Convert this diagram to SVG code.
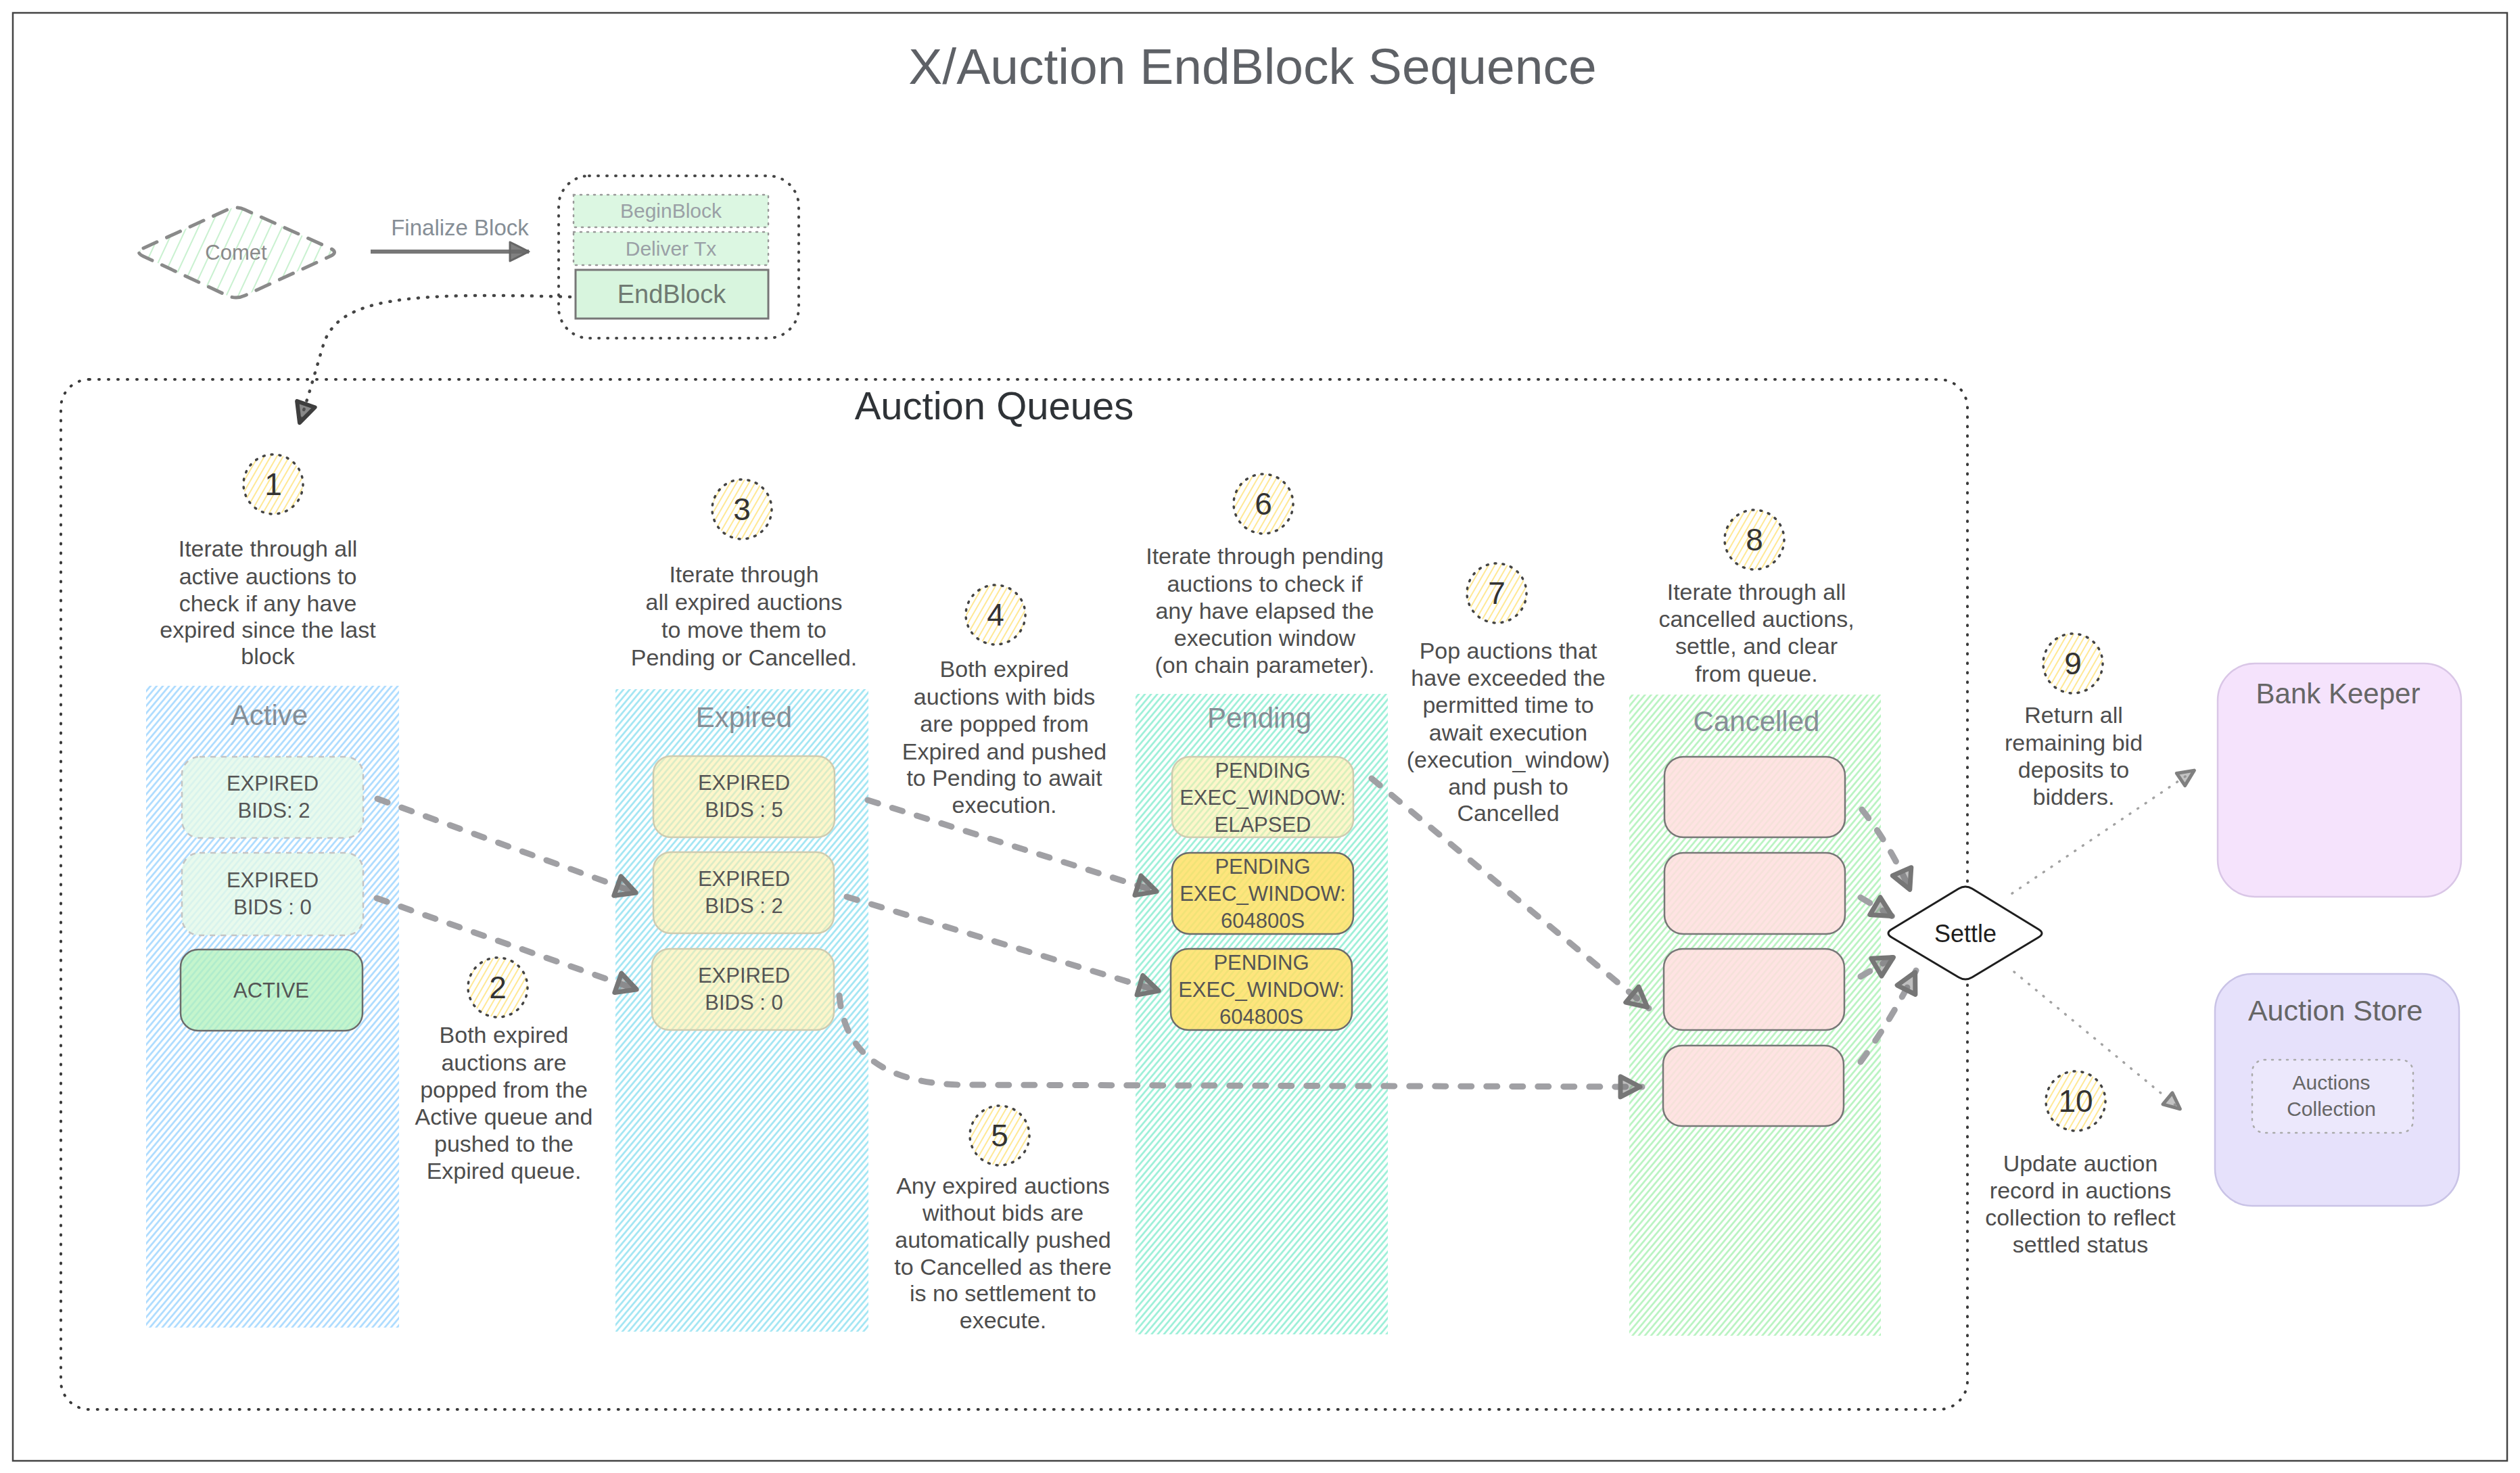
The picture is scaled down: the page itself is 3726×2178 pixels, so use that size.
<svg xmlns="http://www.w3.org/2000/svg" width="3726" height="2178" viewBox="0 0 3726 2178">
<defs>
<style>
text{font-family:"Liberation Sans",Arial,sans-serif;}
.desc{font-size:34px;fill:#4d4d4d;text-anchor:middle;}
.num{font-size:46px;fill:#333;text-anchor:middle;}
.lbl{font-size:42px;fill:#868e96;text-anchor:middle;}
.bx{font-size:31px;fill:#555;text-anchor:middle;}
.step{stroke:#444;stroke-width:3.5;stroke-dasharray:2 10;stroke-linecap:round;fill:url(#hy);}
.conn{fill:none;stroke:#a0a0a4;stroke-width:9;stroke-dasharray:16 22;stroke-linecap:round;}
.thin{fill:none;stroke:#a3a3a3;stroke-width:3.5;stroke-dasharray:1 13;stroke-linecap:round;}
.solidbox{stroke:#6b6b6b;stroke-width:2.5;}
.fadebox{stroke:#cfcbb0;stroke-width:2.5;}
</style>
<pattern id="hb" width="7" height="7" patternUnits="userSpaceOnUse" patternTransform="rotate(40)"><line x1="3.5" y1="0" x2="3.5" y2="7" stroke="#a5d8ff" stroke-width="2.5"/></pattern>
<pattern id="hc" width="7" height="7" patternUnits="userSpaceOnUse" patternTransform="rotate(40)"><line x1="3.5" y1="0" x2="3.5" y2="7" stroke="#99e3f2" stroke-width="2.5"/></pattern>
<pattern id="ht" width="7" height="7" patternUnits="userSpaceOnUse" patternTransform="rotate(40)"><line x1="3.5" y1="0" x2="3.5" y2="7" stroke="#93eed4" stroke-width="2.5"/></pattern>
<pattern id="hg" width="7" height="7" patternUnits="userSpaceOnUse" patternTransform="rotate(40)"><line x1="3.5" y1="0" x2="3.5" y2="7" stroke="#b2f2bb" stroke-width="2.5"/></pattern>
<pattern id="hy" width="8" height="8" patternUnits="userSpaceOnUse" patternTransform="rotate(30)"><line x1="4" y1="0" x2="4" y2="8" stroke="#ffe27a" stroke-width="1.6"/></pattern>
<pattern id="hcm" width="16" height="16" patternUnits="userSpaceOnUse" patternTransform="rotate(25)"><line x1="8" y1="0" x2="8" y2="16" stroke="#c3f0cb" stroke-width="1.8"/></pattern>
<marker id="ah" markerUnits="userSpaceOnUse" viewBox="-44 -24 50 48" markerWidth="50" markerHeight="48" refX="0" refY="0" orient="auto" overflow="visible">
<path d="M-3,0 L-32,-15 L-32,15 Z" fill="#707070" fill-opacity="0.45" stroke="#767676" stroke-width="7" stroke-linejoin="round"/>
</marker>
<marker id="ahs" markerUnits="userSpaceOnUse" viewBox="-34 -18 40 36" markerWidth="40" markerHeight="36" refX="0" refY="0" orient="auto" overflow="visible">
<path d="M-2,0 L-26,-11 L-26,11 Z" fill="#888" fill-opacity="0.5" stroke="#808080" stroke-width="5" stroke-linejoin="round"/>
</marker>
<marker id="ahd" markerUnits="userSpaceOnUse" viewBox="-40 -22 46 44" markerWidth="46" markerHeight="44" refX="0" refY="0" orient="auto" overflow="visible">
<path d="M-3,0 L-32,-14 L-32,14 Z" fill="#555" fill-opacity="0.7" stroke="#3e3e3e" stroke-width="6" stroke-linejoin="round"/>
</marker>
<marker id="ahf" markerUnits="userSpaceOnUse" viewBox="-34 -18 38 36" markerWidth="38" markerHeight="36" refX="0" refY="0" orient="auto" overflow="visible">
<path d="M0,0 L-28,-14 L-28,14 Z" fill="#6a6a6a" fill-opacity="0.85" stroke="#666" stroke-width="3" stroke-linejoin="round"/>
</marker>
</defs>

<rect x="0" y="0" width="3726" height="2178" fill="#ffffff"/>
<rect x="19" y="19" width="3688" height="2141" fill="none" stroke="#444" stroke-width="2.5"/>

<text x="1852" y="124" text-anchor="middle" font-size="75" fill="#5e6166">X/Auction EndBlock Sequence</text>

<g id="comet">
<path d="M212,367 L336,310 Q349,304 362,310 L488,367 Q501,373 488,379 L362,437 Q349,443 336,437 L212,379 Q199,373 212,367 Z" fill="url(#hcm)" stroke="#8a8a8a" stroke-width="5" stroke-dasharray="22 16" stroke-linecap="round"/>
<text x="349" y="384" text-anchor="middle" font-size="31" fill="#8a8a8a">Comet</text>
</g>

<g id="block-lifecycle">
<rect x="826" y="260" width="355" height="240" rx="45" fill="none" stroke="#444" stroke-width="4" stroke-dasharray="1 12" stroke-linecap="round"/>
<g id="beginblock">
<rect x="848" y="288" width="288" height="48" fill="#dcf7e2" stroke="#999" stroke-width="2.5" stroke-dasharray="2 8" stroke-linecap="round"/>
<text x="992" y="322" text-anchor="middle" font-size="30" fill="#9aa0a6">BeginBlock</text>
</g>
<g id="delivertx">
<rect x="848" y="343" width="288" height="49" fill="#dcf7e2" stroke="#999" stroke-width="2.5" stroke-dasharray="2 8" stroke-linecap="round"/>
<text x="992" y="378" text-anchor="middle" font-size="30" fill="#9aa0a6">Deliver Tx</text>
</g>
<g id="endblock">
<rect x="851" y="399" width="285" height="72" fill="#d8f5de" stroke="#777" stroke-width="3"/>
<text x="993" y="448" text-anchor="middle" font-size="38" fill="#6f7a72">EndBlock</text>
</g>
</g>

<g id="auction-queues">
<rect x="90" y="561" width="2819" height="1523" rx="42" fill="none" stroke="#3a3a3a" stroke-width="4" stroke-dasharray="1 13" stroke-linecap="round"/>
<text x="1470" y="620" text-anchor="middle" font-size="58" fill="#2f3337">Auction Queues</text>
</g>

<g id="col-active">
<rect x="216" y="1014" width="374" height="949" fill="url(#hb)"/>
<text class="lbl" x="398" y="1072">Active</text>
</g>
<g id="col-expired">
<rect x="910" y="1019" width="374" height="950" fill="url(#hc)"/>
<text class="lbl" x="1100" y="1075">Expired</text>
</g>
<g id="col-pending">
<rect x="1679" y="1026" width="373" height="947" fill="url(#ht)"/>
<text class="lbl" x="1862" y="1076">Pending</text>
</g>
<g id="col-cancelled">
<rect x="2409" y="1027" width="372" height="948" fill="url(#hg)"/>
<text class="lbl" x="2597" y="1081">Cancelled</text>
</g>

<g id="active-expired-2">
<rect x="269" y="1119" width="268" height="120" rx="26" fill="#e3f9e8" fill-opacity="0.8" stroke="#c4c4c4" stroke-width="2.5" stroke-dasharray="8 8"/>
<text class="bx" x="403" y="1169">EXPIRED</text>
<text class="bx" x="405" y="1209">BIDS: 2</text>
</g>
<g id="active-expired-0">
<rect x="269" y="1261" width="268" height="122" rx="26" fill="#e3f9e8" fill-opacity="0.8" stroke="#c4c4c4" stroke-width="2.5" stroke-dasharray="8 8"/>
<text class="bx" x="403" y="1312">EXPIRED</text>
<text class="bx" x="403" y="1352">BIDS : 0</text>
</g>
<g id="active-active">
<rect x="267" y="1404" width="269" height="120" rx="26" fill="#b2f2bb" fill-opacity="0.75" class="solidbox"/>
<text class="bx" x="401" y="1475">ACTIVE</text>
</g>

<g id="expired-5">
<rect x="966" y="1118" width="268" height="120" rx="26" fill="#fff0a8" fill-opacity="0.6" class="fadebox"/>
<text class="bx" x="1100" y="1168">EXPIRED</text>
<text class="bx" x="1100" y="1208">BIDS : 5</text>
</g>
<g id="expired-2">
<rect x="966" y="1260" width="267" height="120" rx="26" fill="#fff0a8" fill-opacity="0.6" class="fadebox"/>
<text class="bx" x="1100" y="1310">EXPIRED</text>
<text class="bx" x="1100" y="1350">BIDS : 2</text>
</g>
<g id="expired-0">
<rect x="964" y="1403" width="269" height="120" rx="26" fill="#fff0a8" fill-opacity="0.6" class="fadebox"/>
<text class="bx" x="1100" y="1453">EXPIRED</text>
<text class="bx" x="1100" y="1493">BIDS : 0</text>
</g>

<g id="pending-elapsed">
<rect x="1733" y="1119" width="268" height="119" rx="26" fill="#fff0a8" fill-opacity="0.6" class="fadebox"/>
<text class="bx" x="1867" y="1150">PENDING</text>
<text class="bx" x="1867" y="1190">EXEC_WINDOW:</text>
<text class="bx" x="1867" y="1230">ELAPSED</text>
</g>
<g id="pending-1">
<rect x="1733" y="1261" width="268" height="120" rx="26" fill="#ffe066" fill-opacity="0.85" class="solidbox"/>
<text class="bx" x="1867" y="1292">PENDING</text>
<text class="bx" x="1867" y="1332">EXEC_WINDOW:</text>
<text class="bx" x="1867" y="1372">604800S</text>
</g>
<g id="pending-2">
<rect x="1731" y="1403" width="268" height="120" rx="26" fill="#ffe066" fill-opacity="0.85" class="solidbox"/>
<text class="bx" x="1865" y="1434">PENDING</text>
<text class="bx" x="1865" y="1474">EXEC_WINDOW:</text>
<text class="bx" x="1865" y="1514">604800S</text>
</g>

<g id="cancelled-1"><rect x="2461" y="1119" width="267" height="119" rx="28" fill="#ffdede" fill-opacity="0.85" stroke="#777" stroke-width="2.5"/></g>
<g id="cancelled-2"><rect x="2461" y="1261" width="267" height="120" rx="28" fill="#ffdede" fill-opacity="0.85" stroke="#777" stroke-width="2.5"/></g>
<g id="cancelled-3"><rect x="2460" y="1403" width="267" height="120" rx="28" fill="#ffdede" fill-opacity="0.85" stroke="#777" stroke-width="2.5"/></g>
<g id="cancelled-4"><rect x="2459" y="1546" width="267" height="119" rx="28" fill="#ffdede" fill-opacity="0.85" stroke="#777" stroke-width="2.5"/></g>

<g id="settle">
<path d="M2797,1374 L2896,1314 Q2906,1308 2916,1314 L3014,1374 Q3024,1380 3014,1386 L2916,1445 Q2906,1451 2896,1445 L2797,1386 Q2787,1380 2797,1374 Z" fill="#fff" stroke="#1e1e1e" stroke-width="3"/>
<text x="2906" y="1393" text-anchor="middle" font-size="36" fill="#1e1e1e">Settle</text>
</g>

<g id="bank-keeper">
<rect x="3279" y="981" width="360" height="345" rx="55" fill="#f5e3fc" stroke="#d9c6e6" stroke-width="2.5"/>
<text x="3457" y="1040" text-anchor="middle" font-size="42" fill="#666">Bank Keeper</text>
</g>
<g id="auction-store">
<rect x="3275" y="1440" width="361" height="343" rx="55" fill="#e6e1fb" stroke="#c9c3e6" stroke-width="2.5"/>
<text x="3453" y="1509" text-anchor="middle" font-size="43" fill="#666">Auction Store</text>
<g id="auctions-collection">
<rect x="3330" y="1567" width="238" height="108" rx="18" fill="#ece8fc" stroke="#aaa" stroke-width="2.5" stroke-dasharray="2 9" stroke-linecap="round"/>
<text x="3447" y="1611" text-anchor="middle" font-size="30" fill="#666">Auctions</text>
<text x="3447" y="1650" text-anchor="middle" font-size="30" fill="#666">Collection</text>
</g>
</g>

<g id="step-1"><circle class="step" cx="404" cy="716" r="44"/><text class="num" x="404" y="732">1</text>
<text class="desc"><tspan x="396" y="823">Iterate through all</tspan><tspan x="396" y="864">active auctions to</tspan><tspan x="396" y="904">check if any have</tspan><tspan x="396" y="943">expired since the last</tspan><tspan x="396" y="982">block</tspan></text></g>
<g id="step-2"><circle class="step" cx="736" cy="1460" r="44"/><text class="num" x="736" y="1476">2</text>
<text class="desc"><tspan x="745" y="1542">Both expired</tspan><tspan x="745" y="1583">auctions are</tspan><tspan x="745" y="1623">popped from the</tspan><tspan x="745" y="1663">Active queue and</tspan><tspan x="745" y="1703">pushed to the</tspan><tspan x="745" y="1743">Expired queue.</tspan></text></g>
<g id="step-3"><circle class="step" cx="1097" cy="753" r="44"/><text class="num" x="1097" y="769">3</text>
<text class="desc"><tspan x="1100" y="861">Iterate through</tspan><tspan x="1100" y="902">all expired auctions</tspan><tspan x="1100" y="943">to move them to</tspan><tspan x="1100" y="984">Pending or Cancelled.</tspan></text></g>
<g id="step-4"><circle class="step" cx="1472" cy="909" r="44"/><text class="num" x="1472" y="925">4</text>
<text class="desc"><tspan x="1485" y="1001">Both expired</tspan><tspan x="1485" y="1042">auctions with bids</tspan><tspan x="1485" y="1082">are popped from</tspan><tspan x="1485" y="1123">Expired and pushed</tspan><tspan x="1485" y="1162">to Pending to await</tspan><tspan x="1485" y="1202">execution.</tspan></text></g>
<g id="step-5"><circle class="step" cx="1478" cy="1679" r="44"/><text class="num" x="1478" y="1695">5</text>
<text class="desc"><tspan x="1483" y="1765">Any expired auctions</tspan><tspan x="1483" y="1805">without bids are</tspan><tspan x="1483" y="1845">automatically pushed</tspan><tspan x="1483" y="1885">to Cancelled as there</tspan><tspan x="1483" y="1924">is no settlement to</tspan><tspan x="1483" y="1964">execute.</tspan></text></g>
<g id="step-6"><circle class="step" cx="1868" cy="745" r="44"/><text class="num" x="1868" y="761">6</text>
<text class="desc"><tspan x="1870" y="834">Iterate through pending</tspan><tspan x="1870" y="875">auctions to check if</tspan><tspan x="1870" y="915">any have elapsed the</tspan><tspan x="1870" y="955">execution window</tspan><tspan x="1870" y="995">(on chain parameter).</tspan></text></g>
<g id="step-7"><circle class="step" cx="2213" cy="877" r="44"/><text class="num" x="2213" y="893">7</text>
<text class="desc"><tspan x="2230" y="974">Pop auctions that</tspan><tspan x="2230" y="1014">have exceeded the</tspan><tspan x="2230" y="1054">permitted time to</tspan><tspan x="2230" y="1095">await execution</tspan><tspan x="2230" y="1135">(execution_window)</tspan><tspan x="2230" y="1175">and push to</tspan><tspan x="2230" y="1214">Cancelled</tspan></text></g>
<g id="step-8"><circle class="step" cx="2594" cy="798" r="44"/><text class="num" x="2594" y="814">8</text>
<text class="desc"><tspan x="2597" y="887">Iterate through all</tspan><tspan x="2597" y="927">cancelled auctions,</tspan><tspan x="2597" y="967">settle, and clear</tspan><tspan x="2597" y="1008">from queue.</tspan></text></g>
<g id="step-9"><circle class="step" cx="3065" cy="981" r="44"/><text class="num" x="3065" y="997">9</text>
<text class="desc"><tspan x="3066" y="1069">Return all</tspan><tspan x="3066" y="1110">remaining bid</tspan><tspan x="3066" y="1150">deposits to</tspan><tspan x="3066" y="1190">bidders.</tspan></text></g>
<g id="step-10"><circle class="step" cx="3069" cy="1628" r="44"/><text class="num" x="3069" y="1644">10</text>
<text class="desc"><tspan x="3076" y="1732">Update auction</tspan><tspan x="3076" y="1772">record in auctions</tspan><tspan x="3076" y="1812">collection to reflect</tspan><tspan x="3076" y="1852">settled status</tspan></text></g>

<g id="connectors">
<line x1="548" y1="372" x2="782" y2="372" stroke="#777" stroke-width="6" marker-end="url(#ahf)"/>
<text x="680" y="348" text-anchor="middle" font-size="33" fill="#868e96">Finalize Block</text>
<path d="M843,439 C600,432 500,440 478,510 C466,550 455,590 442,628" fill="none" stroke="#444" stroke-width="4.5" stroke-dasharray="1 13" stroke-linecap="round" marker-end="url(#ahd)"/>
<path class="conn" d="M558,1181 L943,1321" marker-end="url(#ah)"/>
<path class="conn" d="M557,1328 L944,1464" marker-end="url(#ah)"/>
<path class="conn" d="M1283,1183 L1713,1319" marker-end="url(#ah)"/>
<path class="conn" d="M1252,1326 L1716,1466" marker-end="url(#ah)"/>
<path class="conn" d="M1241,1472 Q1252,1600 1420,1604 L2428,1607" marker-end="url(#ah)"/>
<path class="conn" d="M2028,1151 L2438,1491" marker-end="url(#ah)"/>
<path class="conn" d="M2753,1197 Q2795,1250 2825,1318" marker-end="url(#ah)"/>
<path class="conn" d="M2751,1327 L2800,1356" marker-end="url(#ah)"/>
<path class="conn" d="M2751,1444 L2802,1414" marker-end="url(#ah)"/>
<path class="conn" d="M2751,1570 Q2795,1510 2833,1435" marker-end="url(#ah)"/>
<path class="thin" d="M2975,1321 L3246,1138" marker-end="url(#ahs)"/>
<path class="thin" d="M2978,1437 L3225,1641" marker-end="url(#ahs)"/>
</g>
</svg>
